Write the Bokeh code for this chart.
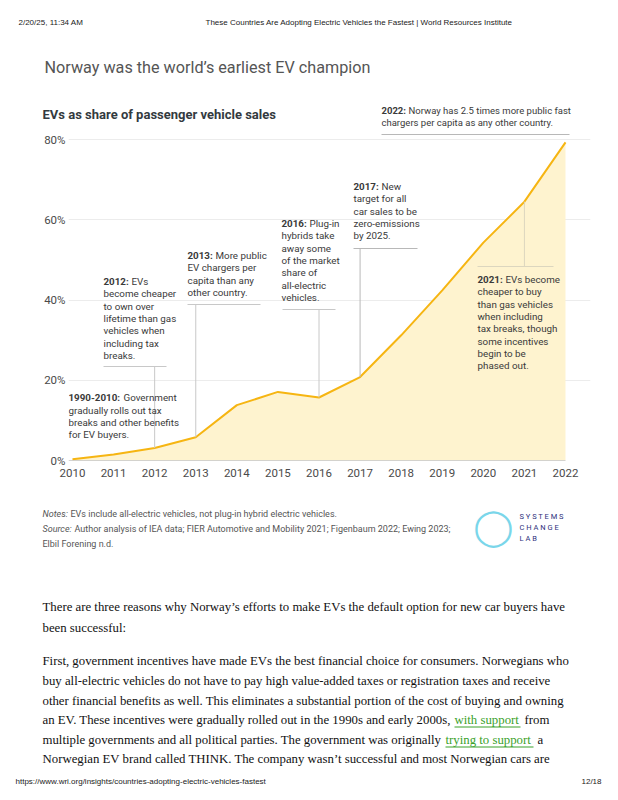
from bokeh.plotting import figure
from bokeh.models import Label, FixedTicker, Range1d, BoxAnnotation
from bokeh.layouts import column
from bokeh.embed import file_html
from bokeh.resources import INLINE

# ---------------- data ----------------
years = [2010, 2011, 2012, 2013, 2014, 2015, 2016, 2017, 2018, 2019, 2020, 2021, 2022]
ev_share = [0.3, 1.5, 3.1, 5.8, 13.8, 17.1, 15.7, 20.8, 31.2, 42.4, 54.3, 64.5, 79.3]
y_ticks = [0, 20, 40, 60, 80]
y_tick_labels = ["0%", "20%", "40%", "60%", "80%"]
x_tick_labels = [str(y) for y in years]

W = 602
TOP_H = 128            # header/title strip: page y 0..128
CH_TOP = TOP_H          # chart strip starts here
CH_H = 362              # chart strip: page y 128..490
BOT_TOP = CH_TOP + CH_H
BOT_H = 298             # notes/body strip: page y 490..788

FL, FR, FT, FB = 68, 12, 3, 30
FRAME_LEFT = FL
FRAME_BOTTOM = CH_TOP + CH_H - FB   # 460
PX_PER_YEAR = 493 / 12
PX_PER_PCT = 321 / 80
x0 = years[0] - 4 / PX_PER_YEAR
frame_w = W - FL - FR
frame_h = CH_H - FT - FB


def text_fig(h):
    f = figure(width=W, height=h, output_backend="svg", toolbar_location=None,
               x_range=Range1d(0, W), y_range=Range1d(0, h),
               x_axis_location=None, y_axis_location=None, frame_align=False,
               min_border_left=0, min_border_right=0, min_border_top=0, min_border_bottom=0)
    f.outline_line_color = None
    f.grid.grid_line_color = None
    f.background_fill_color = "white"
    f.border_fill_color = "white"
    return f


top = text_fig(TOP_H)
bot = text_fig(BOT_H)

p = figure(width=W, height=CH_H, output_backend="svg", toolbar_location=None,
           x_range=Range1d(x0, x0 + frame_w / PX_PER_YEAR),
           y_range=Range1d(0, frame_h / PX_PER_PCT), frame_align=False,
           min_border_left=FL, min_border_right=FR,
           min_border_top=FT, min_border_bottom=FB)
p.outline_line_color = None
p.background_fill_color = "white"
p.border_fill_color = "white"

# axes
p.xaxis.ticker = FixedTicker(ticks=years)
p.xaxis.major_label_overrides = dict(zip(years, x_tick_labels))
p.yaxis.ticker = FixedTicker(ticks=y_ticks)
p.yaxis.major_label_overrides = dict(zip(y_ticks, y_tick_labels))
for ax in (p.xaxis, p.yaxis):
    ax.axis_line_color = None
    ax.major_tick_line_color = None
    ax.minor_tick_line_color = None
    ax.major_tick_out = 0
    ax.major_tick_in = 0
    ax.major_label_text_font = "Roboto"
    ax.major_label_text_font_size = "11.5px"
    ax.major_label_text_color = "#4a4a4a"
p.xaxis.major_label_standoff = 8
p.yaxis.major_label_standoff = 3
p.xgrid.grid_line_color = None
p.ygrid.ticker = FixedTicker(ticks=y_ticks)
p.ygrid.grid_line_color = "#ececec"
p.ygrid.grid_line_width = 1

# area + line
p.varea(x=years, y1=[0] * len(years), y2=ev_share, fill_color="#FEF3CF")
p.line(years, ev_share, line_color="#F6B512", line_width=2)
p.segment(x0=[x0], y0=[0], x1=[years[-1]], y1=[0], line_color="#a8a8a8", line_width=1)


def dx(px):
    return x0 + (px - FRAME_LEFT) / PX_PER_YEAR


def dy(py):
    return (FRAME_BOTTOM - py) / PX_PER_PCT


def _label(fig, sx, sy, text, size, color, style, font, align, baseline):
    fig.add_layout(Label(x=sx, y=sy, x_units="screen", y_units="screen", text=text,
                         text_font=font, text_font_size=f"{size}px",
                         text_color=color, text_font_style=style,
                         text_align=align, text_baseline=baseline))


def lab(px, py, text, size=9.8, color="#3a3a3a", style="normal", font="Roboto",
        align="left", baseline="middle"):
    """place text by page coordinates into whichever strip contains it"""
    if py < TOP_H:
        _label(top, px, TOP_H - py, text, size, color, style, font, align, baseline)
    elif py < BOT_TOP:
        _label(p, px - FRAME_LEFT, FRAME_BOTTOM - py, text, size, color, style, font, align, baseline)
    else:
        _label(bot, px, BOT_TOP + BOT_H - py, text, size, color, style, font, align, baseline)


# annotations
LH = 12.3
annotations = [
    (2, 103, 281, "2012:", ["EVs", "become cheaper", "to own over", "lifetime than gas",
                             "vehicles when", "including tax", "breaks."], 103, 166, 366, "#c8c8c8"),
    (3, 187, 255, "2013:", ["More public", "EV chargers per", "capita than any",
                             "other country."], 187, 260, 304, "#c8c8c8"),
    (6, 281, 223, "2016:", ["Plug-in", "hybrids take", "away some", "of the market",
                             "share of", "all-electric", "vehicles."], 282, 335, 309, "#c8c8c8"),
    (7, 353, 186, "2017:", ["New", "target for all", "car sales to be",
                             "zero-emissions", "by 2025."], 353, 417, 248, "#b8b8b8"),
    (11, 477, 279, "2021:", ["EVs become", "cheaper to buy", "than gas vehicles",
                              "when including", "tax breaks, though", "some incentives",
                              "begin to be", "phased out."], 477, 553, 266, "#dcd6bf"),
]
for idx, tx, ty, bold, lines, hx0, hx1, hy, lc in annotations:
    lab(tx, ty, bold, style="bold")
    lab(tx + 28, ty, lines[0])
    for k, t in enumerate(lines[1:], start=1):
        lab(tx, ty + k * LH, t)
    p.segment(x0=[dx(hx0)], y0=[dy(hy)], x1=[dx(hx1)], y1=[dy(hy)], line_color=lc, line_width=1)
    p.segment(x0=[years[idx]], y0=[dy(hy)], x1=[years[idx]], y1=[ev_share[idx]],
              line_color=lc, line_width=1)

# 2022 annotation (text sits in the top strip, its rule in the chart)
lab(381, 110, "2022:", size=9.5, style="bold")
lab(408, 110, "Norway has 2.5 times more public fast", size=9.5)
lab(381, 122, "chargers per capita as any other country.", size=9.5)
p.segment(x0=[dx(381)], y0=[dy(134)], x1=[dx(569)], y1=[dy(134)], line_color="#b8b8b8", line_width=1)

# 1990-2010 annotation
lab(68, 397, "1990-2010:", style="bold")
lab(123, 397, "Government")
lab(68, 409.5, "gradually rolls out tax")
lab(68, 421.8, "breaks and other benefits")
lab(68, 434, "for EV buyers.")

# titles
lab(44, 67, "Norway was the world’s earliest EV champion", size=16.2, color="#555555",
    font="Roboto")
lab(42, 114, "EVs as share of passenger vehicle sales", size=13, color="#333a40", style="bold")

# page header / footer
lab(18, 22, "2/20/25, 11:34 AM", size=8, color="#222222", font="Liberation Sans")
lab(205, 22, "These Countries Are Adopting Electric Vehicles the Fastest | World Resources Institute",
    size=8, color="#222222", font="Liberation Sans")
lab(15, 781, "https://www.wri.org/insights/countries-adopting-electric-vehicles-fastest", size=8,
    color="#222222", font="Liberation Sans")
lab(601, 781, "12/18", size=8, color="#222222", font="Liberation Sans", align="right")

# notes
lab(42, 513, "Notes:", size=9, color="#555555", style="italic")
lab(70, 513, "EVs include all-electric vehicles, not plug-in hybrid electric vehicles.", size=9, color="#555555")
lab(42, 528, "Source:", size=9, color="#555555", style="italic")
lab(74, 528, "Author analysis of IEA data; FIER Automotive and Mobility 2021; Figenbaum 2022; Ewing 2023;",
    size=9, color="#555555")
lab(42, 543, "Elbil Forening n.d.", size=9, color="#555555")

# logo
lab(493, 526, "◯", size=36, color="#7ad6ea", font="DejaVu Sans", align="center")
lab(519, 516, "S Y S T E M S", size=7.5, color="#2e2f7c")
lab(519, 527, "C H A N G E", size=7.5, color="#2e2f7c")
lab(519, 538, "L A B", size=7.5, color="#2e2f7c")

# body text
SERIF = "Liberation Serif"
body = [
    (606, "There are three reasons why Norway’s efforts to make EVs the default option for new car buyers have"),
    (627, "been successful:"),
    (660, "First, government incentives have made EVs the best financial choice for consumers. Norwegians who"),
    (680, "buy all-electric vehicles do not have to pay high value-added taxes or registration taxes and receive"),
    (700, "other financial benefits as well. This eliminates a substantial portion of the cost of buying and owning"),
    (719, "an EV. These incentives were gradually rolled out in the 1990s and early 2000s,"),
    (739, "multiple governments and all political parties. The government was originally"),
    (758, "Norwegian EV brand called THINK. The company wasn’t successful and most Norwegian cars are"),
]
for y, t in body:
    lab(42, y, t, size=12.8, color="#111111", font=SERIF)
GREEN = "#3aa12b"
lab(454, 719, "with support", size=12.8, color=GREEN, font=SERIF)
lab(524, 719, "from", size=12.8, color="#111111", font=SERIF)
lab(445, 739, "trying to support", size=12.8, color=GREEN, font=SERIF)
lab(537, 739, "a", size=12.8, color="#111111", font=SERIF)
for ux0, ux1, uy in [(454, 520, 726), (445, 533, 746)]:
    bot.add_layout(BoxAnnotation(left=ux0, right=ux1,
                                 top=BOT_TOP + BOT_H - uy, bottom=BOT_TOP + BOT_H - uy - 1,
                                 left_units="screen", right_units="screen",
                                 top_units="screen", bottom_units="screen",
                                 fill_color=GREEN, fill_alpha=1, line_color=None))

layout = column(top, p, bot, spacing=0)
open("out.html", "w").write(file_html(layout, INLINE))
